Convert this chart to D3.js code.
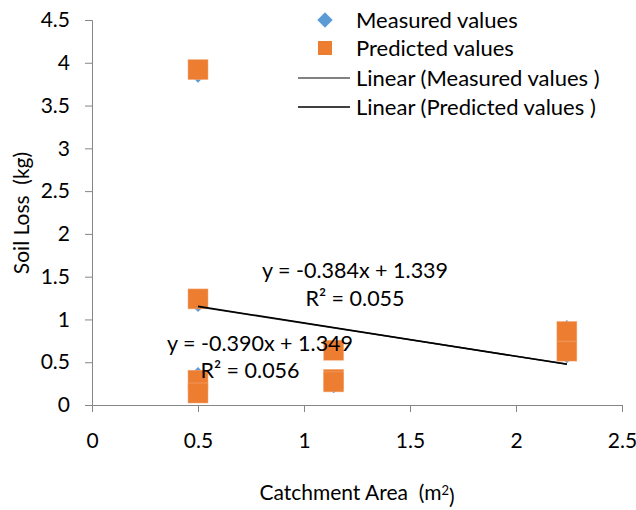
<!DOCTYPE html>
<html><head><meta charset="utf-8">
<script src="https://cdn.jsdelivr.net/npm/d3@7"></script>
<style>body{margin:0;background:#fff}svg{display:block}text{font-family:Lato,"Open Sans",sans-serif;fill:#000}</style>
</head><body>
<svg id="c" width="636" height="510"></svg>
<script>
const measuredX = [0.5, 0.5, 0.5, 0.5, 1.14, 1.14, 1.14, 2.24, 2.24];
const measuredY = [3.85, 1.17, 0.36, 0.12, 0.63, 0.30, 0.22, 0.91, 0.57];
const predictedX = [0.5, 0.5, 0.5, 0.5, 1.14, 1.14, 1.14, 2.24, 2.24];
const predictedY = [3.92, 1.24, 0.29, 0.14, 0.64, 0.30, 0.27, 0.86, 0.63];
const trendMeasured = [-0.384, 1.339];
const trendPredicted = [-0.390, 1.349];
const xTicks = [0, 0.5, 1, 1.5, 2, 2.5];
const yTicks = [0, 0.5, 1, 1.5, 2, 2.5, 3, 3.5, 4, 4.5];
const seriesNames = ["Measured values", "Predicted values", "Linear (Measured values )", "Linear (Predicted values )"];
const eqLabels = ["y = -0.384x + 1.339", "R² = 0.055", "y = -0.390x + 1.349", "R² = 0.056"];

const svg = d3.select("#c");
const x = d3.scaleLinear().domain([0, 2.5]).range([92, 622]);
const y = d3.scaleLinear().domain([0, 4.5]).range([405, 20]);
const axisCol = "#868686";
const fs = 21;

const xa = svg.append("g").attr("transform", "translate(0,405)")
  .call(d3.axisBottom(x).tickValues(xTicks).tickFormat(d3.format("")).tickSizeOuter(0).tickSize(7).tickPadding(21));
const ya = svg.append("g").attr("transform", "translate(92,0)")
  .call(d3.axisLeft(y).tickValues(yTicks).tickFormat(d3.format("")).tickSizeOuter(0).tickSize(7).tickPadding(15));
[xa, ya].forEach(a => {
  a.selectAll("path,line").attr("stroke", axisCol);
  a.selectAll("text").style("font-size", fs + "px").style("font-family", "Lato").attr("fill", "#000");
});

// markers
const diamond = d3.symbol().type(d3.symbolDiamond2).size(130);
svg.append("g").selectAll("path").data(measuredX.map((d, i) => [d, measuredY[i]])).join("path")
  .attr("d", diamond).attr("transform", d => `translate(${x(d[0])},${y(d[1])})`).attr("fill", "#5B9BD5");
svg.append("g").selectAll("rect").data(predictedX.map((d, i) => [d, predictedY[i]])).join("rect")
  .attr("x", d => x(d[0]) - 10).attr("y", d => y(d[1]) - 10).attr("width", 20).attr("height", 20)
  .attr("fill", "#ED7D31").attr("stroke", "#F4B183").attr("stroke-width", 0.5);

// trend lines
const xmin = d3.min(measuredX), xmax = d3.max(measuredX);
[[trendMeasured, "#404040"], [trendPredicted, "#000"]].forEach(([t, c]) => {
  svg.append("line").attr("x1", x(xmin)).attr("y1", y(t[0] * xmin + t[1]))
    .attr("x2", x(xmax)).attr("y2", y(t[0] * xmax + t[1])).attr("stroke", c).attr("stroke-width", 1.5);
});

// equation labels
const eqPos = [[355, 270], [355, 298], [260, 343], [250, 370]];
eqLabels.forEach((t, i) => svg.append("text").attr("x", eqPos[i][0]).attr("y", eqPos[i][1])
  .attr("text-anchor", "middle").attr("dy", "0.35em").style("font-size", (fs + 0.5) + "px").text(t));

// legend
const lg = svg.append("g");
const ly = [20, 48, 78, 107];
lg.append("path").attr("d", d3.symbol().type(d3.symbolDiamond2).size(150)).attr("transform", `translate(325,${ly[0]})`).attr("fill", "#5B9BD5");
lg.append("rect").attr("x", 318).attr("y", ly[1] - 7).attr("width", 14).attr("height", 14).attr("fill", "#ED7D31");
lg.append("line").attr("x1", 298).attr("x2", 350).attr("y1", ly[2]).attr("y2", ly[2]).attr("stroke", "#595959").attr("stroke-width", 1.5);
lg.append("line").attr("x1", 298).attr("x2", 350).attr("y1", ly[3]).attr("y2", ly[3]).attr("stroke", "#000").attr("stroke-width", 1.5);
seriesNames.forEach((n, i) => lg.append("text").attr("x", 356).attr("y", ly[i]).attr("dy", "0.35em").style("font-size", "22px").text(n));

// axis titles
const xt = svg.append("text").attr("x", 357).attr("y", 493).attr("text-anchor", "middle").attr("dy", "0.35em").style("font-size", fs + "px");
xt.append("tspan").text("Catchment Area\u00A0\u00A0(m");
xt.append("tspan").attr("dy", "-0.45em").style("font-size", "13px").text("2");
xt.append("tspan").attr("dy", "0.45em").text(")");
svg.append("text").attr("transform", "translate(22,213) rotate(-90)").attr("text-anchor", "middle").attr("dy", "0.35em")
  .style("font-size", fs + "px").text("Soil Loss\u00A0\u00A0(kg)");
</script>
</body></html>
